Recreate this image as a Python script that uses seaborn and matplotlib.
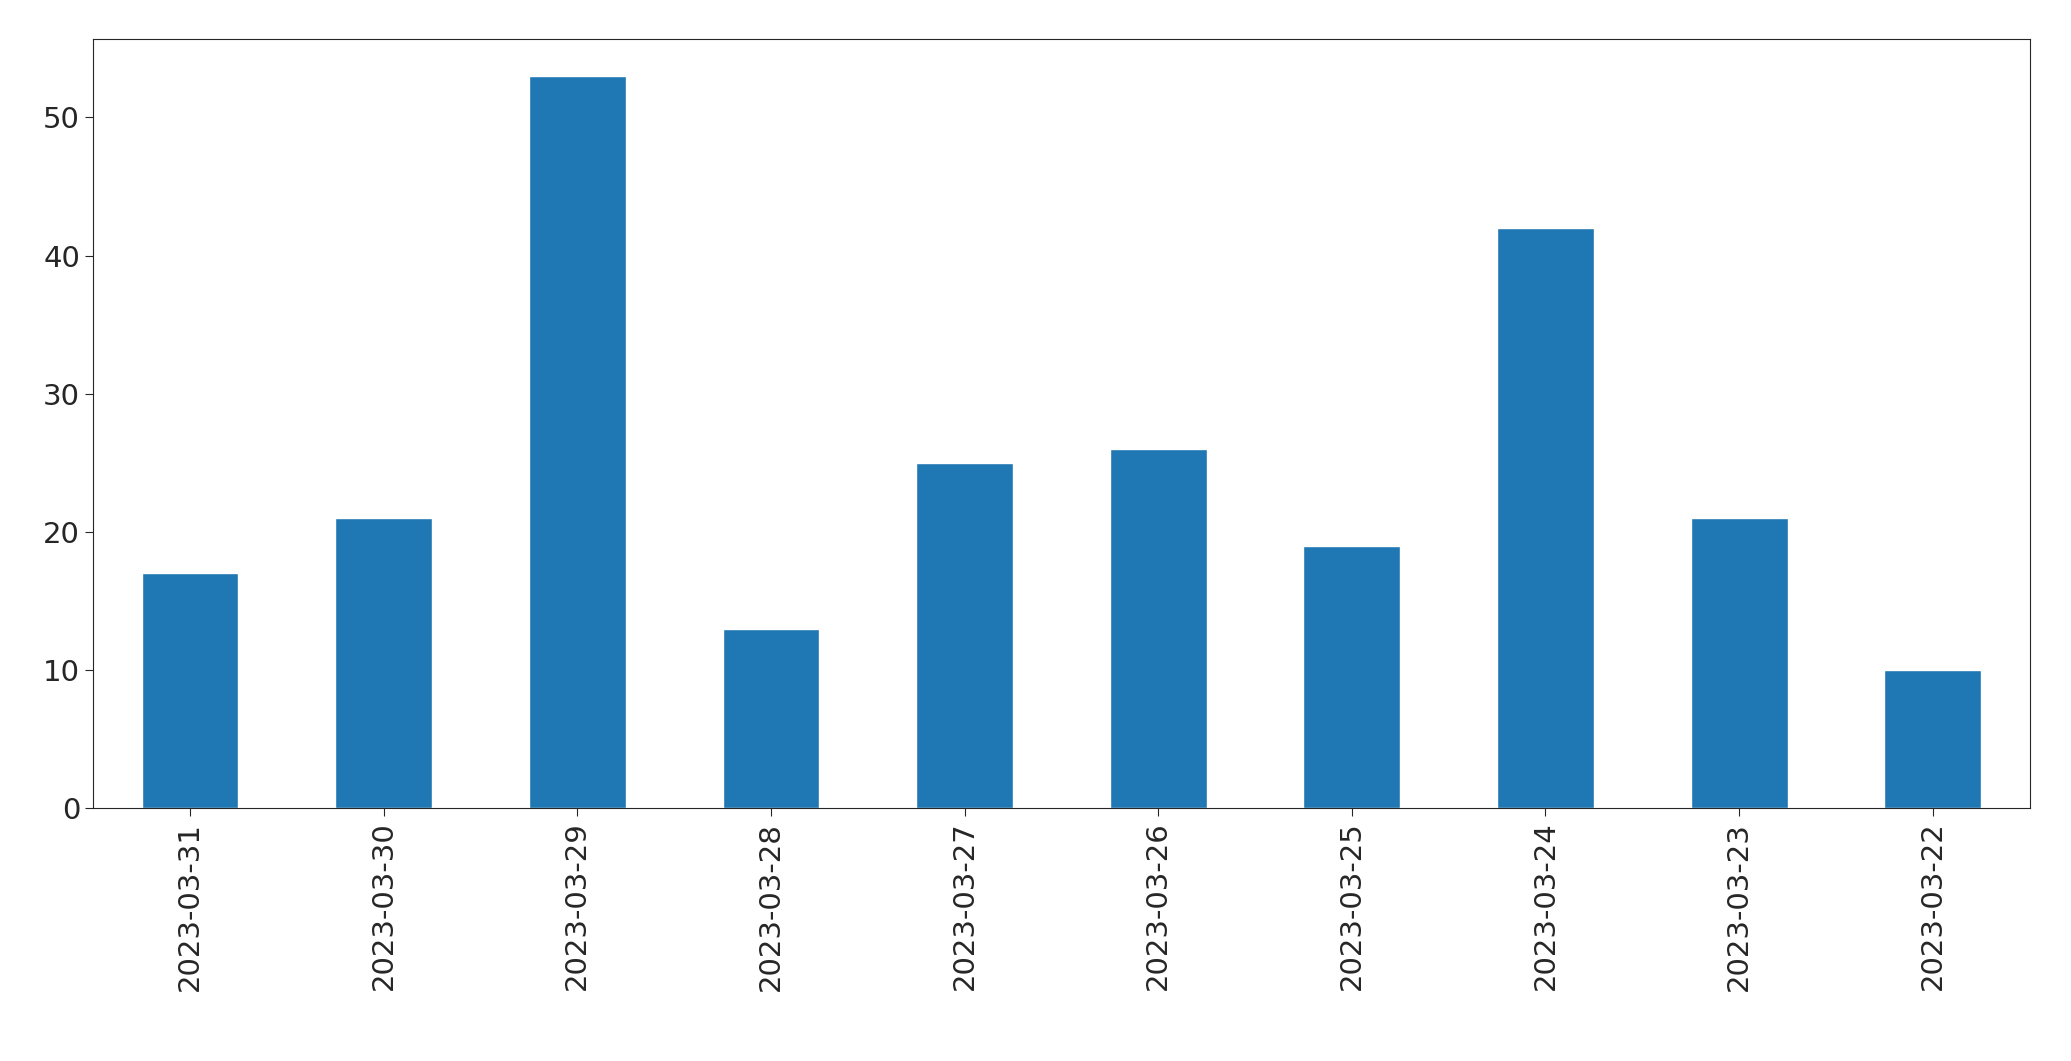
import matplotlib
matplotlib.use("Agg")
import matplotlib.pyplot as plt
import seaborn as sns
import pandas as pd

dates = ["2023-03-31","2023-03-30","2023-03-29","2023-03-28","2023-03-27",
         "2023-03-26","2023-03-25","2023-03-24","2023-03-23","2023-03-22"]
counts = [17, 21, 53, 13, 25, 26, 19, 42, 21, 10]

sns.set_style("ticks")
plt.rcParams['font.family'] = ['DejaVu Sans']
df = pd.DataFrame({"date": dates, "count": counts})
fig = plt.figure(figsize=(20.71, 10.61), dpi=100)
ax = fig.add_axes([0.045, 0.238, 0.935, 0.725])
sns.barplot(data=df, x="date", y="count", color="#1f77b4", width=0.5, saturation=1, ax=ax, order=dates)
ax.set_xlabel("")
ax.set_ylabel("")
ax.tick_params(axis='both', labelsize=21, length=6)
plt.setp(ax.get_xticklabels(), rotation=90)
ax.set_xlim(-0.5, len(dates) - 0.5)
for s in ax.spines.values():
    s.set_visible(True)
    s.set_linewidth(0.8)
fig.savefig("out.png", dpi=100)
